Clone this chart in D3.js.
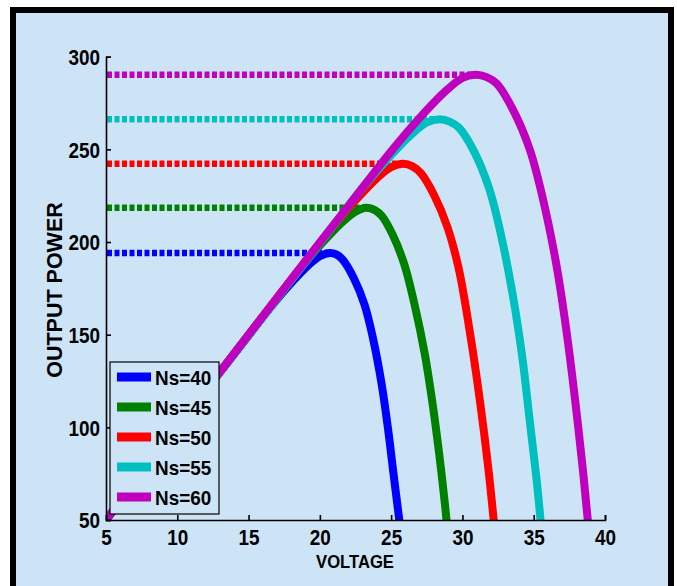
<!DOCTYPE html>
<html>
<head>
<meta charset="utf-8">
<script src="https://cdn.jsdelivr.net/npm/d3@7"></script>
<style>
    body { margin: 0; background: #fff; }
    text { font-family: "Liberation Sans", Arial, Helvetica, sans-serif; font-weight: bold; fill: #000; }
</style>
</head>
<body>
<svg id="chart" width="677" height="586"></svg>
<script>
// ---- data ----
const voltageTicks = [5, 10, 15, 20, 25, 30, 35, 40];
const powerTicks = [50, 100, 150, 200, 250, 300];

const seriesNames = ['Ns=40', 'Ns=45', 'Ns=50', 'Ns=55', 'Ns=60'];
const seriesColors = ['#0000ff', '#008000', '#ff0000', '#00bfbf', '#bf00bf'];

// maximum power point of each curve (voltage, power)
const vmp = [20.7, 23.25, 25.85, 28.4, 30.9];
const pmp = [194.1, 218.5, 242.2, 266.2, 290.2];

// [voltage, power] pairs
const ns40 = [[5, 50], [10, 100], [14.67, 146.3], [16.67, 166], [18, 178], [19.27, 188], [20, 192.3],
    [20.7, 194.1], [21.15, 193.3], [21.6, 190.5], [22.35, 181], [23.13, 166.3], [23.72, 148.3],
    [24.32, 124], [24.78, 99.3], [25.16, 75.3], [25.55, 51.3], [25.75, 38]];
const ns45 = [[5, 50], [10, 100], [16.5, 164.6], [18.75, 186.75], [20.25, 200.25], [21.68, 211.5],
    [22.5, 216.4], [23.25, 218.5], [23.9, 217], [24.35, 214], [25.1, 204], [25.92, 188],
    [26.62, 167], [27.35, 140], [27.92, 112], [28.38, 85], [28.78, 58], [29, 40]];
const ns50 = [[5, 50], [10, 100], [18.33, 183], [20.83, 207.5], [22.5, 222.5], [24.08, 235],
    [25, 240.4], [25.85, 242.2], [26.5, 240.8], [27.1, 237], [28, 225.5], [28.95, 208],
    [29.73, 186], [30.55, 150], [31.25, 113], [31.83, 77], [32.18, 51], [32.32, 40]];
const ns55 = [[5, 50], [10, 100], [20.17, 201], [22.9, 228.25], [24.75, 244.75], [26.49, 258.5],
    [27.5, 264.5], [28.4, 266.2], [29.1, 265], [29.75, 261.7], [30.85, 248.4], [31.88, 228.7],
    [32.7, 204], [33.55, 170.5], [34.22, 136.6], [34.72, 103.6], [35.22, 70.6], [35.52, 46.75],
    [35.62, 40]];
const ns60 = [[5, 50], [10, 100], [14, 140], [18, 180], [22, 219.5], [25, 249], [27, 267],
    [28.9, 282], [30, 288.5], [30.9, 290.2], [31.7, 289], [32.4, 285.5], [33.57, 271],
    [34.74, 249.5], [35.67, 222.5], [36.63, 186], [37.35, 149], [37.93, 113], [38.45, 77],
    [38.78, 51], [38.92, 40]];

const curves = [ns40, ns45, ns50, ns55, ns60];

// ---- layout ----
const BG = '#cde4f6';
const plotLeft = 106, plotRight = 605, plotTop = 56.7, plotBottom = 520;

const svg = d3.select('#chart');

// figure panel with thick black frame
svg.append('rect')
    .attr('x', 13).attr('y', 10)
    .attr('width', 658).attr('height', 580)
    .attr('fill', BG)
    .attr('stroke', '#000')
    .attr('stroke-width', 6);

const x = d3.scaleLinear().domain([5, 40]).range([plotLeft, plotRight]);
const y = d3.scaleLinear().domain([50, 300]).range([plotBottom, plotTop]);

svg.append('defs').append('clipPath').attr('id', 'plot-clip')
    .append('rect')
    .attr('x', plotLeft).attr('y', plotTop - 10)
    .attr('width', plotRight - plotLeft).attr('height', plotBottom - plotTop + 10);

const plot = svg.append('g').attr('clip-path', 'url(#plot-clip)');

// dotted lines at each maximum power level
plot.selectAll('line.mpp')
    .data(pmp)
    .enter().append('line')
    .attr('class', 'mpp')
    .attr('x1', x(5) + 1)
    .attr('x2', (d, i) => x(vmp[i]))
    .attr('y1', d => y(d))
    .attr('y2', d => y(d))
    .attr('stroke', (d, i) => seriesColors[i])
    .attr('stroke-width', 6.5)
    .attr('stroke-dasharray', '5 2.5');

// P-V curves
const line = d3.line()
    .x(d => x(d[0]))
    .y(d => y(d[1]))
    .curve(d3.curveCatmullRom.alpha(0.5));

plot.selectAll('path.curve')
    .data(curves)
    .enter().append('path')
    .attr('class', 'curve')
    .attr('d', line)
    .attr('fill', 'none')
    .attr('stroke', (d, i) => seriesColors[i])
    .attr('stroke-width', 8)
    .attr('stroke-linejoin', 'round');

// axes, ticks pointing inward
const xAxis = d3.axisBottom(x)
    .tickValues(voltageTicks)
    .tickSizeInner(-5).tickSizeOuter(-5)
    .tickPadding(9);
const yAxis = d3.axisLeft(y)
    .tickValues(powerTicks)
    .tickSizeInner(-5).tickSizeOuter(-5)
    .tickPadding(7);

const gx = svg.append('g').attr('transform', `translate(0,${plotBottom})`).call(xAxis);
const gy = svg.append('g').attr('transform', `translate(${plotLeft},0)`).call(yAxis);

[gx, gy].forEach(g => {
    g.select('.domain').attr('stroke', '#000').attr('stroke-width', 1.6);
    g.selectAll('.tick line').attr('stroke', '#000').attr('stroke-width', 1.6);
    g.selectAll('.tick text')
        .attr('font-size', 22)
        .attr('font-family', '"Liberation Sans", Arial, sans-serif')
        .attr('font-weight', 'bold')
        .attr('fill', '#000')
        .attr('transform', 'scale(0.86,1)');
});
gy.selectAll('.tick text').attr('dy', '0.36em');

// axis titles
svg.append('text')
    .attr('transform', 'translate(355,568) scale(0.9,1)')
    .attr('text-anchor', 'middle')
    .attr('font-size', 18.5)
    .text('VOLTAGE');

svg.append('text')
    .attr('transform', 'translate(62,290) rotate(-90)')
    .attr('text-anchor', 'middle')
    .attr('font-size', 21.5)
    .text('OUTPUT POWER');

// legend
const legend = svg.append('g');
legend.append('rect')
    .attr('x', 110).attr('y', 362)
    .attr('width', 109).attr('height', 152)
    .attr('fill', BG)
    .attr('stroke', '#000')
    .attr('stroke-width', 1.2);

const rows = legend.selectAll('g.row')
    .data(seriesNames)
    .enter().append('g')
    .attr('class', 'row')
    .attr('transform', (d, i) => `translate(0,${377 + i * 30})`);

rows.append('line')
    .attr('x1', 117).attr('x2', 151)
    .attr('y1', 0).attr('y2', 0)
    .attr('stroke', (d, i) => seriesColors[i])
    .attr('stroke-width', 9);

rows.append('text')
    .attr('transform', 'translate(155,7.5) scale(0.9,1)')
    .attr('font-size', 21)
    .text(d => d);
</script>
</body>
</html>
